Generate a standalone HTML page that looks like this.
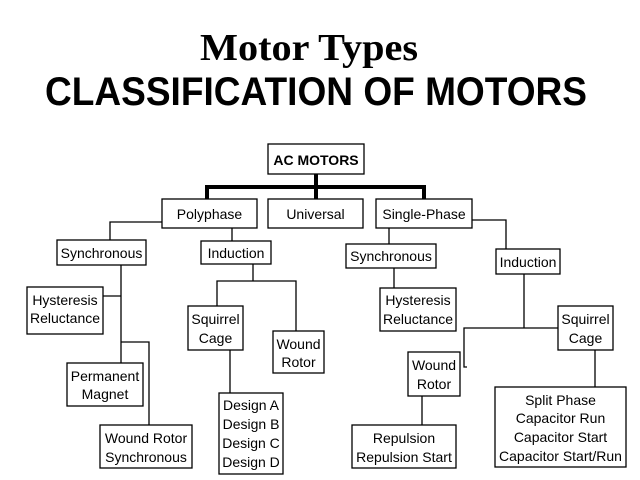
<!DOCTYPE html>
<html><head><meta charset="utf-8"><style>
html,body{margin:0;padding:0;background:#fff;}
svg{display:block;}
text{font-family:"Liberation Sans",Arial,sans-serif;fill:#000;}
.b{font-size:14px;text-anchor:middle;}
rect{fill:#fff;stroke:#000;stroke-width:1.3;}
line,polyline{stroke:#000;stroke-width:1.3;fill:none;}
</style></head><body>
<svg width="640" height="480" viewBox="0 0 640 480" xmlns="http://www.w3.org/2000/svg">
<text x="309" y="60" text-anchor="middle" style="font-family:'Liberation Serif',serif;font-weight:bold;font-size:38px" textLength="218" lengthAdjust="spacingAndGlyphs">Motor Types</text>
<text x="316" y="105" text-anchor="middle" style="font-weight:bold;font-size:40px" textLength="542" lengthAdjust="spacingAndGlyphs">CLASSIFICATION OF MOTORS</text>

<!-- thick bus -->
<polyline points="207,199 207,187 424,187 424,199" style="stroke-width:4"/>
<line x1="316" y1="174" x2="316" y2="199" style="stroke-width:4"/>

<!-- connectors -->
<polyline points="162,222 110,222 110,240"/>
<line x1="232" y1="228" x2="232" y2="241"/>
<line x1="121" y1="265" x2="121" y2="363"/>
<line x1="103" y1="296" x2="121" y2="296"/>
<polyline points="121,342 149,342 149,425"/>
<line x1="253" y1="264" x2="253" y2="281"/>
<polyline points="217,306 217,281 296,281 296,331"/>
<line x1="230" y1="350" x2="230" y2="393"/>

<line x1="389" y1="228" x2="389" y2="244"/>
<line x1="394" y1="268" x2="394" y2="288"/>
<polyline points="472,220 506,220 506,249"/>
<line x1="524" y1="274" x2="524" y2="328"/>
<polyline points="558,328 464,328 464,367 467,367"/>
<line x1="422" y1="396" x2="422" y2="425"/>
<line x1="595" y1="350" x2="595" y2="387"/>

<!-- boxes -->
<rect x="268" y="144" width="96" height="30"/>
<text class="b" x="316" y="165" style="font-weight:bold">AC MOTORS</text>
<rect x="162" y="199" width="95" height="29"/>
<text class="b" x="209.5" y="219">Polyphase</text>
<rect x="268" y="199" width="95" height="29"/>
<text class="b" x="315.5" y="219">Universal</text>
<rect x="376" y="199" width="96" height="29"/>
<text class="b" x="424" y="219">Single-Phase</text>

<rect x="57" y="240" width="89" height="25"/>
<text class="b" x="101.5" y="258">Synchronous</text>
<rect x="201" y="241" width="70" height="23"/>
<text class="b" x="236" y="258">Induction</text>
<rect x="27" y="287" width="76" height="47"/>
<text class="b" x="65" y="305">Hysteresis</text><text class="b" x="65" y="323">Reluctance</text>
<rect x="67" y="363" width="76" height="43"/>
<text class="b" x="105" y="381">Permanent</text><text class="b" x="105" y="399">Magnet</text>
<rect x="100" y="425" width="92" height="43"/>
<text class="b" x="146" y="443">Wound Rotor</text><text class="b" x="146" y="462">Synchronous</text>
<rect x="188" y="306" width="55" height="44"/>
<text class="b" x="215.5" y="324">Squirrel</text><text class="b" x="215.5" y="343">Cage</text>
<rect x="273" y="331" width="51" height="42"/>
<text class="b" x="298.5" y="349">Wound</text><text class="b" x="298.5" y="367">Rotor</text>
<rect x="219" y="393" width="64" height="81"/>
<text class="b" x="251" y="410">Design A</text><text class="b" x="251" y="429">Design B</text><text class="b" x="251" y="448">Design C</text><text class="b" x="251" y="467">Design D</text>

<rect x="346" y="244" width="90" height="24"/>
<text class="b" x="391" y="261">Synchronous</text>
<rect x="380" y="288" width="76" height="43"/>
<text class="b" x="418" y="305">Hysteresis</text><text class="b" x="418" y="324">Reluctance</text>
<rect x="496" y="249" width="64" height="25"/>
<text class="b" x="528" y="267">Induction</text>
<rect x="558" y="306" width="55" height="44"/>
<text class="b" x="585.5" y="324">Squirrel</text><text class="b" x="585.5" y="343">Cage</text>
<rect x="408" y="352" width="52" height="44"/>
<text class="b" x="434" y="370">Wound</text><text class="b" x="434" y="389">Rotor</text>
<rect x="352" y="425" width="104" height="43"/>
<text class="b" x="404" y="443">Repulsion</text><text class="b" x="404" y="462">Repulsion Start</text>
<rect x="495" y="387" width="131" height="80"/>
<text class="b" x="560.5" y="405">Split Phase</text><text class="b" x="560.5" y="423">Capacitor Run</text><text class="b" x="560.5" y="442">Capacitor Start</text><text class="b" x="560.5" y="461">Capacitor Start/Run</text>
</svg>
</body></html>
